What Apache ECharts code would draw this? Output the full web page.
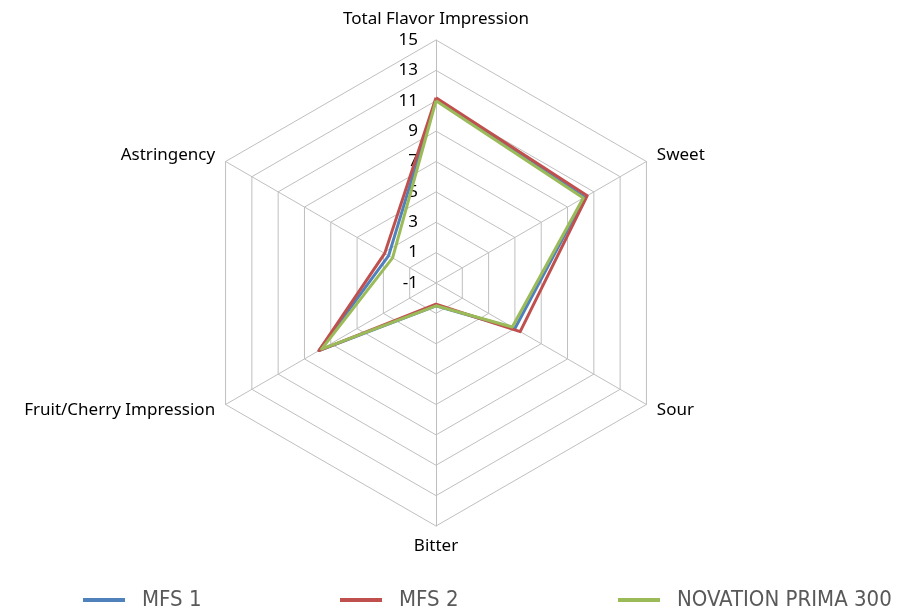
<!DOCTYPE html>
<html>
<head>
<meta charset="utf-8">
<script src="https://cdn.jsdelivr.net/npm/echarts@6/dist/echarts.min.js"></script>
<style>
  html, body { margin: 0; padding: 0; background: #fff; }
  #chart { width: 908px; height: 610px; }
</style>
</head>
<body>
<div id="chart"></div>
<script>
// attributes around the web, clockwise from the top
const attributes = ['Total Flavor Impression', 'Sweet', 'Sour', 'Bitter', 'Fruit/Cherry Impression', 'Astringency']

const mfs1 = [11.1, 10.3, 5.0, 0.5, 7.9, 2.6]
const mfs2 = [11.2, 10.5, 5.4, 0.4, 7.9, 2.9]
const novation = [11.0, 10.2, 4.8, 0.5, 7.7, 2.3]

const seriesNames = ['MFS 1', 'MFS 2', 'NOVATION PRIMA 300']
const colors = ['#4F81BD', '#C0504D', '#9BBB59']

// echarts lays radar spokes out counter-clockwise, so flip the order after the first one
const order = [0, 5, 4, 3, 2, 1]
const reorder = arr => order.map(i => arr[i])

const chart = echarts.init(document.getElementById('chart'))

const indicators = reorder(attributes).map((name, i) => ({
  name: name,
  min: -1,
  max: 15,
  // only the top spoke carries the value labels
  axisLabel: i === 0 ? { show: true } : { show: false }
}))

const legendText = {
  fontFamily: 'DejaVu Sans Condensed, Liberation Sans Narrow, sans-serif',
  fontSize: 22,
  color: '#595959',
  padding: [0, 0, 0, 12]
}
const legendLefts = [78, 335, 613]

chart.setOption({
  animation: false,
  color: colors,
  legend: seriesNames.map((name, i) => ({
    data: [name],
    top: 584,
    left: legendLefts[i],
    itemWidth: 42,
    itemHeight: 4,
    icon: 'rect',
    textStyle: legendText
  })),
  radar: {
    center: [436, 283],
    radius: 243,
    startAngle: 90,
    shape: 'polygon',
    splitNumber: 8,
    indicator: indicators,
    nameGap: 12,
    axisName: {
      color: '#000',
      fontFamily: 'Noto Sans, sans-serif',
      fontSize: 17
    },
    axisLine: { lineStyle: { color: '#bfbfbf', width: 1 } },
    splitLine: { lineStyle: { color: '#bfbfbf', width: 1 } },
    splitArea: { show: false },
    axisTick: { show: false },
    axisLabel: {
      show: false,
      color: '#000',
      fontFamily: 'Noto Sans, sans-serif',
      fontSize: 17,
      margin: 18
    }
  },
  series: [{
    type: 'radar',
    symbol: 'none',
    lineStyle: { width: 3 },
    data: [
      { name: seriesNames[0], value: reorder(mfs1) },
      { name: seriesNames[1], value: reorder(mfs2) },
      { name: seriesNames[2], value: reorder(novation) }
    ]
  }]
})
</script>
</body>
</html>
